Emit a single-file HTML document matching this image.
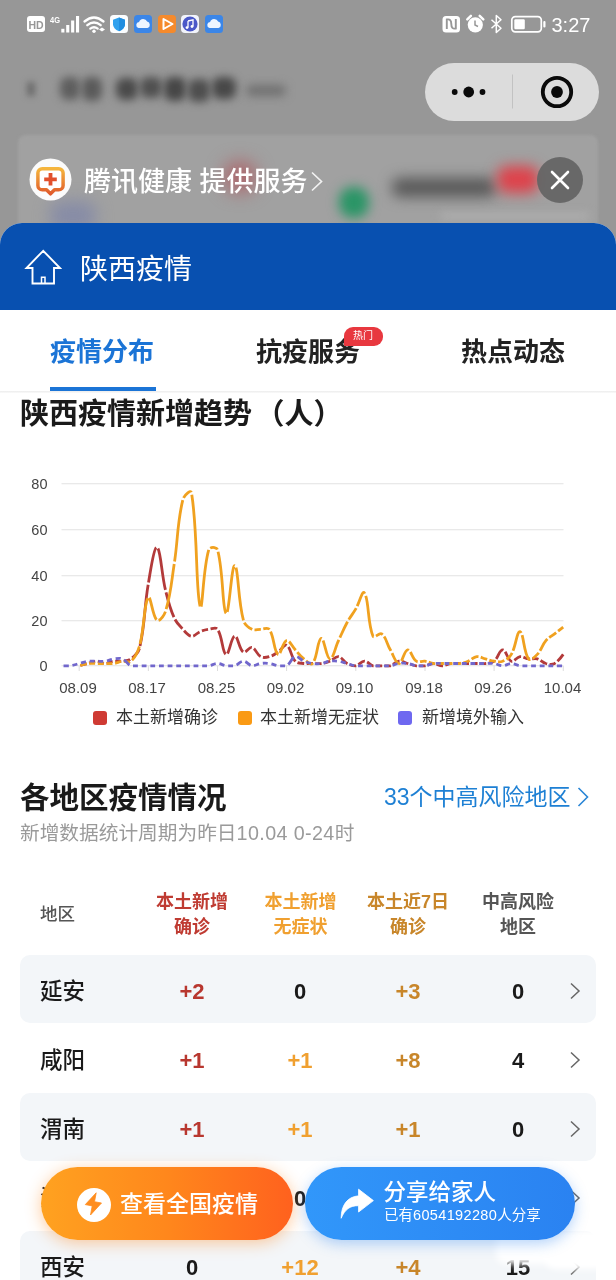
<!DOCTYPE html>
<html lang="zh-CN">
<head>
<meta charset="utf-8">
<title>陕西疫情</title>
<style>
html,body{margin:0;padding:0;}
body{width:616px;height:1280px;overflow:hidden;position:relative;background:#979797;
  font-family:"Liberation Sans","Noto Sans CJK SC",sans-serif;color:#1a1a1a;}
.abs{position:absolute;}
.t{position:absolute;white-space:nowrap;line-height:1;}
/* ---------- dimmed top ---------- */
#top{position:absolute;left:0;top:0;width:616px;height:240px;background:#979797;overflow:hidden;}
.blur{position:absolute;filter:blur(6px);}
#card{position:absolute;left:18px;top:135px;width:580px;height:110px;background:#a1a1a1;border-radius:8px;filter:blur(1.500px);}
#status{position:absolute;left:0;top:0;width:616px;height:48px;}
#clock{left:551.500px;top:14.500px;font-size:20px;color:#fff;letter-spacing:0px;}
#capsule{position:absolute;left:425px;top:63px;width:174px;height:58px;border-radius:29px;background:#dcdcdc;}
#svc{left:84px;top:168.500px;font-size:27px;color:#fff;font-weight:500;}
#closeb{position:absolute;left:536.500px;top:157px;width:46px;height:46px;border-radius:50%;background:rgba(100,100,100,.93);}
/* ---------- panel ---------- */
#panel{position:absolute;left:0;top:223px;width:616px;height:1057px;background:#fff;border-radius:22px 22px 0 0;overflow:hidden;}
#bluebar{position:absolute;left:0;top:0;width:616px;height:87px;background:#0850b0;}
#title{left:80px;top:33px;font-size:28px;color:#fff;}
.tab{font-size:26px;font-weight:700;color:#222;}
#h1{left:20px;font-size:29px;font-weight:700;color:#1a1a1a;}
.ax{font-size:14.5px;fill:#444;font-family:"Liberation Sans",sans-serif;}
.lg{font-size:17px;color:#333;}
.sw{position:absolute;width:14px;height:14px;border-radius:3px;}
.hd{position:absolute;text-align:center;font-size:18px;font-weight:700;line-height:25px;white-space:nowrap;transform:translateX(-50%);}
.row{position:absolute;left:20px;width:576px;height:68px;border-radius:10px;}
.row.g{background:#f3f6f9;}
.rn{position:absolute;left:20px;top:26px;font-size:22.5px;font-weight:500;line-height:1;color:#1a1a1a;white-space:nowrap;}
.v{position:absolute;top:26.500px;font-size:22px;font-weight:700;line-height:1;transform:translateX(-50%);white-space:nowrap;font-family:"Liberation Sans",sans-serif;}
.c1{left:172px;color:#b8372f;}
.c2{left:280px;color:#f0a030;}
.c3{left:388px;color:#c8862a;}
.c4{left:498px;color:#1a1a1a;}
.k{color:#1a1a1a;}
.chev{position:absolute;left:549px;top:27px;width:12px;height:18px;}
#btnO{position:absolute;left:41px;top:1167px;width:251.500px;height:73px;border-radius:37px;
  background:linear-gradient(90deg,#ffa220 0%,#ff871c 50%,#ff611e 100%);box-shadow:0 3px 16px rgba(255,140,40,.45);}
#btnB{position:absolute;left:305px;top:1167px;width:270px;height:73px;border-radius:37px;
  background:linear-gradient(90deg,#3197fa 0%,#2a82f1 100%);box-shadow:0 4px 14px rgba(40,130,240,.35);}
</style>
</head>
<body>
<!-- ================= dimmed background page ================= -->
<div id="top">
  <div class="blur" style="left:27px;top:82px;width:8px;height:14px;background:#6c6c6c;filter:blur(3px);"></div>
  <div class="blur" style="left:60px;top:77px;width:20px;height:23px;background:#5e5e5e;border-radius:8px;filter:blur(4.500px);"></div>
  <div class="blur" style="left:82px;top:77px;width:20px;height:24px;background:#5a5a5a;border-radius:8px;filter:blur(4.500px);"></div>
  <div class="blur" style="left:116px;top:78px;width:22px;height:22px;background:#4a4a4a;border-radius:8px;filter:blur(4.500px);"></div>
  <div class="blur" style="left:140px;top:77px;width:22px;height:21px;background:#505050;border-radius:8px;filter:blur(4.500px);"></div>
  <div class="blur" style="left:164px;top:77px;width:22px;height:24px;background:#464646;border-radius:8px;filter:blur(4.500px);"></div>
  <div class="blur" style="left:188px;top:79px;width:22px;height:23px;background:#4e4e4e;border-radius:8px;filter:blur(4.500px);"></div>
  <div class="blur" style="left:212px;top:77px;width:24px;height:22px;background:#484848;border-radius:8px;filter:blur(4.500px);"></div>
  <div class="blur" style="left:246px;top:85px;width:40px;height:11px;background:#707070;border-radius:6px;filter:blur(5px);"></div>
  <div id="card"></div>
  <div class="blur" style="left:50px;top:201px;width:46px;height:30px;background:#878ca6;border-radius:12px;filter:blur(8px);"></div>
  <div class="blur" style="left:224px;top:162px;width:32px;height:30px;background:#ad656a;border-radius:14px;filter:blur(9px);"></div>
  <div class="blur" style="left:339px;top:187px;width:30px;height:31px;background:#2a9566;border-radius:45%;filter:blur(6px);"></div>
  <div class="blur" style="left:392px;top:178px;width:104px;height:19px;background:#585858;border-radius:8px;filter:blur(7px);"></div>
  <div class="blur" style="left:440px;top:213px;width:150px;height:6px;background:#b0b0b0;border-radius:3px;filter:blur(4px);"></div>
  <div class="blur" style="left:497px;top:166px;width:42px;height:27px;background:#de424b;border-radius:10px;filter:blur(7px);"></div>
</div>

<!-- status bar -->
<div id="status">
<svg class="abs" style="left:0;top:0" width="616" height="48" viewBox="0 0 616 48">
  <!-- HD -->
  <rect x="27" y="16" width="18" height="16" rx="3" fill="#fff"/>
  <text x="36" y="28.5" font-size="10.5" font-weight="700" text-anchor="middle" fill="#979797" font-family="Liberation Sans, sans-serif">HD</text>
  <!-- 4G + signal -->
  <text x="50" y="23" font-size="9" font-weight="700" fill="#fff" font-family="Liberation Sans, sans-serif" textLength="10" lengthAdjust="spacingAndGlyphs">4G</text>
  <rect x="61.300" y="28.800" width="3.100" height="3.700" fill="#fff"/>
  <rect x="66.200" y="25" width="3.100" height="7.500" fill="#fff"/>
  <rect x="71.100" y="20.500" width="3.100" height="12" fill="#fff"/>
  <rect x="76" y="16" width="3.100" height="16.500" fill="#fff"/>
  <!-- wifi -->
  <g fill="none" stroke="#fff" stroke-width="2.3" stroke-linecap="round">
    <path d="M84.5 21.5 Q94 13.5 103.500 21.5"/>
    <path d="M87.300 25.200 Q94 19.700 100.700 25.200"/>
    <path d="M90.300 28.600 Q94 25.800 97.700 28.600"/>
  </g>
  <circle cx="94" cy="31.300" r="1.700" fill="#fff"/>
  <path d="M99 29.500 l3 -2 v4z M105 29.500 l-3 -2 v4z" fill="#fff"/>
  <!-- shield app -->
  <rect x="110" y="15" width="18" height="18" rx="3.500" fill="#fbfdff"/>
  <path d="M119 17.500 l6 2.200 v4.500 q0 4.500 -6 7 q-6 -2.500 -6 -7 v-4.500z" fill="#2ea0ee"/>
  <path d="M119 17.500 l6 2.200 v4.500 q0 4.500 -6 7z" fill="#1f8de0"/>
  <!-- cloud app -->
  <rect x="134" y="15" width="18" height="18" rx="3.500" fill="#3b86e8"/>
  <path d="M138.500 28 a3 3 0 0 1 .6 -5.900 a4.200 4.200 0 0 1 8 -.5 a3.300 3.300 0 0 1 .4 6.400z" fill="#eef5ff"/>
  <!-- play app -->
  <rect x="158" y="15" width="18" height="18" rx="3.500" fill="#f58a2c"/>
  <path d="M163.500 19 l9 5 l-9 5z" fill="none" stroke="#fff" stroke-width="2" stroke-linejoin="round"/>
  <!-- music app -->
  <g transform="translate(-1 0)"><rect x="182" y="15" width="18" height="18" rx="4" fill="#f2f4fb"/>
  <circle cx="191" cy="24" r="7.600" fill="#4a58c8"/>
  <path d="M189 21 l5 -1.200 v6.600 M189 21 v6.500" fill="none" stroke="#fff" stroke-width="1.300"/>
  <circle cx="188" cy="27.600" r="1.400" fill="#fff"/><circle cx="193" cy="26.500" r="1.400" fill="#fff"/></g>
  <!-- cloud app 2 -->
  <rect x="205" y="15" width="18" height="18" rx="3.500" fill="#3b86e8"/>
  <path d="M209.500 28 a3 3 0 0 1 .6 -5.900 a4.200 4.200 0 0 1 8 -.5 a3.300 3.300 0 0 1 .4 6.400z" fill="#eef5ff"/>
  <!-- NFC -->
  <rect x="442.500" y="16" width="17.500" height="16.500" rx="3.500" fill="#fff"/>
  <path d="M446.800 29 v-9.500 q4.500 -1 4.500 4.500 t4.500 4.500 v-9.500" fill="none" stroke="#979797" stroke-width="1.900"/>
  <!-- alarm -->
  <circle cx="475.300" cy="24.800" r="7.600" fill="#fff"/>
  <path d="M475 20.500 v4.500 l3 1.500" fill="none" stroke="#979797" stroke-width="1.500"/>
  <path d="M467.300 19.300 l3.600 -3.500 M483.300 19.300 l-3.600 -3.500" stroke="#fff" stroke-width="2.500" stroke-linecap="round"/>
  <!-- bluetooth -->
  <path d="M491.500 19.700 l9.500 8.600 l-4.700 4.200 v-17 l4.700 4.200 l-9.500 8.600" fill="none" stroke="#fff" stroke-width="1.500" stroke-linejoin="round"/>
  <!-- battery -->
  <rect x="511.800" y="16.600" width="29.500" height="15.200" rx="3.500" fill="none" stroke="#fff" stroke-width="1.700"/>
  <rect x="514.300" y="19.200" width="10.500" height="10" rx="1.200" fill="#fff"/>
  <rect x="543.300" y="21" width="2.200" height="6.500" rx="1" fill="#fff"/>
</svg>
<div class="t" id="clock">3:27</div>
</div>

<!-- capsule -->
<div id="capsule">
<svg width="174" height="58" viewBox="0 0 174 58">
  <circle cx="29.700" cy="29" r="2.900" fill="#0a0a0a"/>
  <circle cx="43.700" cy="29" r="5.400" fill="#0a0a0a"/>
  <circle cx="57.500" cy="29" r="2.900" fill="#0a0a0a"/>
  <rect x="87" y="11.500" width="1" height="34" fill="#c2c2c2"/>
  <circle cx="132" cy="29" r="14.200" fill="none" stroke="#0a0a0a" stroke-width="3.800"/>
  <circle cx="132" cy="29" r="5.900" fill="#0a0a0a"/>
</svg>
</div>

<!-- service row -->
<svg class="abs" style="left:29px;top:158px" width="44" height="44" viewBox="0 0 44 44">
  <defs><linearGradient id="tg" x1="0" y1="0" x2="0" y2="1"><stop offset="0" stop-color="#f5b53c"/><stop offset="1" stop-color="#e05a2a"/></linearGradient></defs>
  <circle cx="21.500" cy="21.500" r="21" fill="#fbfbfb"/>
  <path d="M13.300 10.700 h16.400 a4.400 4.400 0 0 1 4.400 4.400 v12.300 a4.400 4.400 0 0 1 -4.400 4.400 h-4.200 l-4 4 l-4 -4 h-4.200 a4.400 4.400 0 0 1 -4.400 -4.400 v-12.300 a4.400 4.400 0 0 1 4.400 -4.400z" fill="#fff" stroke="url(#tg)" stroke-width="3.500" stroke-linejoin="round"/>
  <path d="M21.500 15 v12.600 M15.200 21.300 h12.600" stroke="#e2502c" stroke-width="3.800"/>
</svg>
<div class="t" id="svc">腾讯健康 提供服务</div>
<svg class="abs" style="left:308px;top:168px" width="20" height="26" viewBox="0 0 20 26"><path d="M4 4.500 l9.500 9 l-9.500 9" fill="none" stroke="#f2f2f2" stroke-width="1.700"/></svg>
<div id="closeb"><svg width="46" height="46" viewBox="0 0 46 46"><path d="M15 15 l16 16 M31 15 l-16 16" stroke="#fff" stroke-width="2.600" stroke-linecap="round"/></svg></div>

<!-- ================= main panel ================= -->
<div id="panel">
  <div id="bluebar"></div>
  <svg class="abs" style="left:22px;top:22px" width="44" height="44" viewBox="0 0 44 44">
    <path d="M21.200 5.800 L4.500 23 H10.500 V38.500 H32 V23 H38 Z" fill="none" stroke="#fff" stroke-width="1.900" stroke-linejoin="miter"/>
    <path d="M19.500 38.500 V32.300 H23 V38.500" fill="none" stroke="#fff" stroke-width="1.500"/>
  </svg>
  <div class="t" id="title">陕西疫情</div>

  <!-- tabs -->
  <div class="t tab" style="left:50px;top:116px;color:#1b74d6;">疫情分布</div>
  <div class="t tab" style="left:256px;top:116px;">抗疫服务</div>
  <div class="t tab" style="left:461px;top:116px;">热点动态</div>
  <div class="abs" style="left:50px;top:163.500px;width:106px;height:4.500px;background:#1b74d6;"></div>
  <div class="abs" style="left:0;top:168px;width:616px;height:2px;background:linear-gradient(#ececec,#fafafa);"></div>
  <div class="abs" style="left:343.500px;top:104px;width:39.500px;height:18.500px;border-radius:9px 9px 9px 1px;background:#e8383f;"></div>
  <div class="t" style="left:353px;top:108px;font-size:10px;color:#fff;">热门</div>

  <div class="t" id="h1" style="top:176.500px;">陕西疫情新增趋势<span style="margin-left:3.500px">（人）</span></div>

  <!-- chart (svg coordinates are page coords shifted by -223 via viewBox) -->
  <svg class="abs" style="left:0;top:237px" width="616" height="260" viewBox="0 460 616 260">
    <g stroke="#e2e2e2" stroke-width="1">
      <line x1="61.500" x2="563.500" y1="483.750" y2="483.750"/>
      <line x1="61.500" x2="563.500" y1="529.750" y2="529.750"/>
      <line x1="61.500" x2="563.500" y1="575.750" y2="575.750"/>
      <line x1="61.500" x2="563.500" y1="620.750" y2="620.750"/>
      <line x1="61.500" x2="563.500" y1="665.750" y2="665.750"/>
    </g>
    <g stroke="#dcdcdc" stroke-width="1">
      <line x1="79.200" x2="79.200" y1="666" y2="671"/><line x1="148.350" x2="148.350" y1="666" y2="671"/>
      <line x1="217.500" x2="217.500" y1="666" y2="671"/><line x1="286.600" x2="286.600" y1="666" y2="671"/>
      <line x1="355.800" x2="355.800" y1="666" y2="671"/><line x1="425" x2="425" y1="666" y2="671"/>
      <line x1="494.100" x2="494.100" y1="666" y2="671"/><line x1="563.250" x2="563.250" y1="666" y2="671"/>
    </g>
    <g class="ax" text-anchor="end">
      <text x="47.500" y="489">80</text><text x="47.500" y="535">60</text><text x="47.500" y="581">40</text>
      <text x="47.500" y="626">20</text><text x="47.500" y="671">0</text>
    </g>
    <g class="ax" text-anchor="middle" style="font-size:15px">
      <text x="78" y="692.500">08.09</text><text x="147" y="692.500">08.17</text><text x="216.500" y="692.500">08.25</text>
      <text x="285.500" y="692.500">09.02</text><text x="354.500" y="692.500">09.10</text><text x="424" y="692.500">09.18</text>
      <text x="493" y="692.500">09.26</text><text x="562.500" y="692.500">10.04</text>
    </g>
    <g fill="none" stroke-width="2.800" stroke-linejoin="round">
      <path d="M79.2 665.8C79.2 665.8 84.4 664.4 87.8 663.5C91.3 662.6 93.0 661.2 96.5 661.2C99.9 661.2 101.7 663.5 105.1 663.5C108.6 663.5 110.2 661.7 113.8 661.2C117.2 660.8 119.0 661.6 122.4 661.2C125.9 660.7 128.4 661.0 131.0 658.9C135.3 655.6 138.4 653.0 139.7 647.5C145.3 623.0 144.0 609.1 148.3 583.8C150.9 569.1 153.8 546.1 157.0 547.4C160.7 548.9 161.4 573.5 165.6 590.6C168.3 601.8 169.6 607.6 174.3 618.0C176.6 623.1 179.0 625.2 182.9 629.3C185.9 632.5 187.9 635.7 191.5 636.2C194.8 636.6 196.6 633.0 200.2 631.6C203.5 630.3 205.3 629.8 208.8 629.3C212.2 628.9 215.8 626.9 217.5 629.3C222.7 636.9 222.2 652.8 226.1 654.4C229.1 655.6 231.1 636.6 234.8 636.2C238.0 635.7 238.9 649.1 243.4 652.1C245.8 653.7 249.0 646.7 252.0 647.5C255.9 648.6 256.6 654.5 260.7 656.6C263.5 658.1 266.1 657.5 269.3 656.6C273.0 655.7 274.7 654.2 278.0 652.1C281.6 649.7 284.0 643.9 286.6 645.3C290.9 647.5 290.6 656.3 295.3 661.2C297.5 663.6 300.4 663.0 303.9 663.5C307.3 663.9 309.1 663.5 312.5 663.5C316.0 663.5 317.8 663.9 321.2 663.5C324.7 663.0 326.5 662.5 329.8 661.2C333.4 659.8 335.2 656.2 338.5 656.6C342.1 657.1 343.3 661.5 347.1 663.5C350.2 665.1 352.5 665.8 355.8 665.8C359.4 665.3 360.9 661.2 364.4 661.2C367.9 661.2 369.4 664.8 373.0 665.8C376.3 665.8 378.2 665.8 381.7 665.8C385.1 665.8 387.1 665.8 390.3 665.8C394.0 664.8 395.4 661.7 399.0 661.2C402.3 660.8 404.2 662.6 407.6 663.5C411.1 664.4 412.7 665.3 416.3 665.8C419.7 665.8 421.5 665.8 424.9 665.8C428.4 665.3 430.1 663.5 433.5 663.5C437.0 663.5 438.7 665.8 442.2 665.8C445.6 665.8 447.3 663.9 450.8 663.5C454.2 663.0 456.0 663.5 459.5 663.5C462.9 663.5 464.7 663.5 468.1 663.5C471.6 663.5 473.3 663.5 476.8 663.5C480.2 663.5 482.0 663.9 485.4 663.5C488.9 663.0 491.4 663.3 494.1 661.2C498.3 657.8 499.2 649.8 502.7 649.8C506.2 649.8 507.2 659.6 511.3 661.2C514.1 662.3 516.4 657.1 520.0 656.6C523.3 656.2 525.1 658.5 528.6 658.9C532.0 659.4 534.0 658.1 537.3 658.9C540.9 659.9 542.2 662.5 545.9 663.5C549.2 664.3 551.7 665.0 554.6 663.5C558.6 661.3 563.2 654.4 563.2 654.4" stroke="#b33a3a" stroke-dasharray="0 1.20 6.54 2.40 6.59 2.40 6.61 2.40 6.59 2.40 6.26 2.40 6.69 2.40 12.24 2.40 61.96 2.40 35.72 2.40 42.04 2.40 26.30 2.40 11.99 2.40 8.87 2.40 7.59 2.40 6.57 2.40 6.77 2.40 24.47 2.40 18.52 2.40 16.29 2.40 7.94 2.40 10.40 2.40 6.48 2.40 7.43 2.40 9.14 2.40 16.02 2.40 6.78 2.40 6.26 2.40 6.26 2.40 6.57 2.40 7.59 2.40 8.81 2.40 6.64 2.40 7.56 2.40 7.53 2.40 6.24 2.40 6.24 2.40 7.47 2.40 6.64 2.40 6.55 2.40 6.24 2.40 6.59 2.40 6.61 2.40 6.59 2.40 6.26 2.40 6.24 2.40 6.24 2.40 6.26 2.40 6.69 2.40 12.30 2.40 12.37 2.40 7.74 2.40 6.64 2.40 6.29 2.40 7.43 2.40 6.48 2.40 10.25 6.20"/>
      <path d="M79.2 665.8C79.2 665.8 84.3 663.9 87.8 663.5C91.2 663.0 93.0 663.5 96.5 663.5C99.9 663.5 101.7 663.5 105.1 663.5C108.6 663.5 110.4 663.9 113.8 663.5C117.3 663.0 118.9 661.7 122.4 661.2C125.8 660.8 128.8 663.3 131.0 661.2C135.7 656.9 137.8 652.2 139.7 645.3C144.7 626.7 143.7 604.1 148.3 597.5C150.6 594.1 152.4 616.6 157.0 620.2C159.3 622.1 164.2 615.8 165.6 611.1C171.1 593.0 171.3 582.5 174.3 563.3C178.2 537.9 177.0 523.7 182.9 499.6C183.9 495.5 190.9 489.0 191.5 492.8C197.9 531.8 195.6 591.4 200.2 606.6C202.5 614.2 202.8 569.5 208.8 549.7C209.7 546.7 216.7 546.7 217.5 549.7C223.6 572.1 222.2 609.8 226.1 613.4C229.1 616.1 231.5 564.3 234.8 565.6C238.4 567.1 237.8 599.5 243.4 620.2C244.7 624.9 248.0 627.2 252.0 629.3C254.9 630.8 257.2 629.3 260.7 629.3C264.1 629.3 267.6 626.9 269.3 629.3C274.5 636.9 273.7 651.5 278.0 654.4C280.6 656.1 282.7 641.7 286.6 640.7C289.6 639.9 291.8 646.2 295.3 649.8C298.7 653.5 300.0 655.9 303.9 658.9C306.9 661.3 310.7 665.7 312.5 663.5C317.6 657.5 317.4 639.4 321.2 638.4C324.3 637.6 326.2 658.4 329.8 658.9C333.1 659.4 335.0 648.0 338.5 640.7C341.9 633.4 343.3 629.6 347.1 622.5C350.2 616.8 352.5 614.4 355.8 608.9C359.4 602.6 362.4 589.7 364.4 592.9C369.3 600.7 367.3 622.5 373.0 636.2C374.2 638.9 379.4 632.1 381.7 633.9C386.3 637.5 386.7 643.6 390.3 649.8C393.6 655.4 395.5 663.5 399.0 663.5C402.4 663.5 404.0 650.3 407.6 649.8C410.9 649.4 412.0 658.4 416.3 661.2C418.9 662.9 421.5 660.8 424.9 661.2C428.4 661.7 430.0 663.0 433.5 663.5C436.9 663.9 438.7 663.5 442.2 663.5C445.6 663.5 447.4 663.5 450.8 663.5C454.3 663.5 456.1 663.9 459.5 663.5C463.0 663.0 464.8 662.5 468.1 661.2C471.7 659.8 473.2 657.1 476.8 656.6C480.1 656.2 481.9 658.0 485.4 658.9C488.9 659.8 490.5 660.7 494.1 661.2C497.4 661.6 499.7 662.4 502.7 661.2C506.6 659.7 509.2 658.1 511.3 654.4C516.1 646.2 516.8 630.8 520.0 631.6C523.7 632.6 523.5 652.1 528.6 658.9C530.4 661.2 534.7 657.1 537.3 654.4C541.6 649.8 541.8 645.6 545.9 640.7C548.7 637.4 551.1 636.6 554.6 633.9C558.0 631.2 563.2 627.1 563.2 627.1" stroke="#f0a11f" stroke-dasharray="0 1.20 6.55 2.40 6.26 2.40 6.24 2.40 6.26 2.40 6.56 2.40 6.54 2.40 16.00 2.40 46.36 2.40 23.05 2.40 11.29 2.40 46.24 2.40 61.97 2.40 10.75 2.40 111.84 2.40 57.15 2.40 8.00 2.40 62.15 2.40 47.05 2.40 53.21 2.40 10.58 2.40 6.40 2.40 6.72 2.40 24.42 2.40 14.56 2.40 10.66 2.40 10.18 2.40 8.17 2.40 24.53 2.40 20.56 2.40 18.32 2.40 17.76 2.40 13.77 2.40 16.95 2.40 41.93 2.40 7.43 2.40 15.91 2.40 14.25 2.40 14.36 2.40 12.37 2.40 6.44 2.40 6.56 2.40 6.26 2.40 6.24 2.40 6.26 2.40 6.57 2.40 7.46 2.40 6.64 2.40 6.55 2.40 6.37 2.40 8.86 2.40 22.53 2.40 26.68 2.40 8.32 2.40 13.82 2.40 8.65 2.40 8.61 6.20"/>
      <path d="M61.9 665.8C61.9 665.8 67.1 665.8 70.5 665.8C74.1 665.3 75.7 664.4 79.2 663.5C82.6 662.6 84.3 661.7 87.8 661.2C91.2 660.8 93.0 661.2 96.5 661.2C99.9 661.2 101.7 661.6 105.1 661.2C108.6 660.7 110.2 659.4 113.8 658.9C117.2 658.5 119.4 657.7 122.4 658.9C126.3 660.5 127.2 664.2 131.0 665.8C134.1 665.8 136.2 665.8 139.7 665.8C143.1 665.8 144.9 665.8 148.3 665.8C151.8 665.8 153.5 665.8 157.0 665.8C160.4 665.8 162.2 665.8 165.6 665.8C169.1 665.8 170.8 665.8 174.3 665.8C177.7 665.8 179.4 665.8 182.9 665.8C186.4 665.8 188.1 665.8 191.5 665.8C195.0 665.8 196.7 665.8 200.2 665.8C203.6 665.8 205.4 665.8 208.8 665.8C212.3 665.3 214.0 663.5 217.5 663.5C220.9 663.5 222.6 665.3 226.1 665.8C229.5 665.8 231.5 665.8 234.8 665.8C238.4 664.8 239.9 661.2 243.4 661.2C246.9 661.2 248.4 665.3 252.0 665.8C255.3 665.8 257.2 663.9 260.7 663.5C264.1 663.0 265.9 663.0 269.3 663.5C272.8 663.9 274.5 665.3 278.0 665.8C281.4 665.8 283.8 665.8 286.6 665.8C290.7 663.6 291.4 657.7 295.3 656.6C298.3 655.8 300.3 659.8 303.9 661.2C307.2 662.5 309.0 663.0 312.5 663.5C315.9 663.9 317.8 663.9 321.2 663.5C324.7 663.0 326.3 661.7 329.8 661.2C333.2 660.8 335.1 660.8 338.5 661.2C342.0 661.7 343.7 662.6 347.1 663.5C350.6 664.4 352.2 665.3 355.8 665.8C359.2 665.8 360.9 665.8 364.4 665.8C367.9 665.8 369.6 665.8 373.0 665.8C376.5 665.8 378.2 665.8 381.7 665.8C385.1 665.8 386.9 665.8 390.3 665.8C393.8 665.3 395.5 663.9 399.0 663.5C402.4 663.0 404.2 663.0 407.6 663.5C411.1 663.9 412.7 665.3 416.3 665.8C419.7 665.8 421.5 665.8 424.9 665.8C428.4 665.3 430.0 663.9 433.5 663.5C436.9 663.0 438.7 663.5 442.2 663.5C445.6 663.5 447.4 663.5 450.8 663.5C454.3 663.5 456.0 663.5 459.5 663.5C462.9 663.5 464.7 663.5 468.1 663.5C471.6 663.5 473.3 663.5 476.8 663.5C480.2 663.5 481.9 663.5 485.4 663.5C488.9 663.5 490.7 663.0 494.1 663.5C497.6 663.9 499.2 665.8 502.7 665.8C506.2 665.8 507.9 663.5 511.3 663.5C514.8 663.5 516.5 665.3 520.0 665.8C523.4 665.8 525.2 665.8 528.6 665.8C532.1 665.8 533.8 665.8 537.3 665.8C540.7 665.8 542.5 665.8 545.9 665.8C549.4 665.8 551.1 665.8 554.6 665.8C558.0 665.8 563.2 665.8 563.2 665.8" stroke="#7167cc" stroke-dasharray="0 1.75 5.14 3.50 5.45 3.50 5.45 3.50 5.16 3.50 5.16 3.50 5.46 3.50 5.27 3.50 7.63 3.50 5.14 3.50 5.14 3.50 5.14 3.50 5.14 3.50 5.14 3.50 5.14 3.50 5.14 3.50 5.14 3.50 5.14 3.50 5.49 3.50 5.49 3.50 5.14 3.50 6.43 3.50 6.46 3.50 5.48 3.50 5.18 3.50 5.46 3.50 5.14 3.50 9.30 3.50 6.56 3.50 5.47 3.50 5.18 3.50 5.46 3.50 5.18 3.50 5.45 3.50 5.45 3.50 5.14 3.50 5.14 3.50 5.14 3.50 5.14 3.50 5.46 3.50 5.18 3.50 5.46 3.50 5.14 3.50 5.46 3.50 5.16 3.50 5.14 3.50 5.14 3.50 5.14 3.50 5.14 3.50 5.14 3.50 5.16 3.50 5.49 3.50 5.51 3.50 5.49 3.50 5.14 3.50 5.14 3.50 5.14 3.50 5.14 3.50 5.14 6.75"/>
    </g>
  </svg>

  <!-- legend -->
  <div class="sw" style="left:93px;top:488px;background:#cf3a33;"></div>
  <div class="t lg" style="left:116px;top:486px;">本土新增确诊</div>
  <div class="sw" style="left:237.500px;top:488px;background:#fa9a14;"></div>
  <div class="t lg" style="left:260px;top:486px;">本土新增无症状</div>
  <div class="sw" style="left:398px;top:488px;background:#6e68f0;"></div>
  <div class="t lg" style="left:422px;top:486px;">新增境外输入</div>

  <!-- section 2 -->
  <div class="t" style="left:20px;top:559.500px;font-size:29.500px;font-weight:700;color:#1a1a1a;">各地区疫情情况</div>
  <div class="t" style="left:384px;top:563px;font-size:23px;color:#1e80d4;">33个中高风险地区</div>
  <svg class="abs" style="left:574px;top:562px" width="18" height="24" viewBox="0 0 18 24"><path d="M4.500 3 l9 9 l-9 9" fill="none" stroke="#2a86d6" stroke-width="1.600"/></svg>
  <div class="t" style="left:20px;top:601px;font-size:19.700px;color:#9a9a9a;">新增数据统计周期为昨日<span style="letter-spacing:.4px">10.04 0-24</span>时</div>

  <!-- table header -->
  <div class="t" style="left:40px;top:683px;font-size:17.500px;color:#555;font-weight:500;">地区</div>
  <div class="hd" style="left:192px;top:667px;color:#bf3b32;">本土新增<br>确诊</div>
  <div class="hd" style="left:300.500px;top:667px;color:#f0a030;">本土新增<br>无症状</div>
  <div class="hd" style="left:408px;top:667px;color:#c8862a;">本土近7日<br>确诊</div>
  <div class="hd" style="left:518px;top:667px;color:#555;">中高风险<br>地区</div>

  <!-- rows -->
  <div class="row g" style="top:731.500px;"><div class="rn">延安</div><div class="v c1">+2</div><div class="v c2 k">0</div><div class="v c3">+3</div><div class="v c4">0</div>
    <svg class="chev" viewBox="0 0 12 18"><path d="M2 1.500 l8 7.500 l-8 7.500" fill="none" stroke="#666" stroke-width="1.500"/></svg></div>
  <div class="row" style="top:800.500px;"><div class="rn">咸阳</div><div class="v c1">+1</div><div class="v c2">+1</div><div class="v c3">+8</div><div class="v c4">4</div>
    <svg class="chev" viewBox="0 0 12 18"><path d="M2 1.500 l8 7.500 l-8 7.500" fill="none" stroke="#666" stroke-width="1.500"/></svg></div>
  <div class="row g" style="top:869.500px;"><div class="rn">渭南</div><div class="v c1">+1</div><div class="v c2">+1</div><div class="v c3">+1</div><div class="v c4">0</div>
    <svg class="chev" viewBox="0 0 12 18"><path d="M2 1.500 l8 7.500 l-8 7.500" fill="none" stroke="#666" stroke-width="1.500"/></svg></div>
  <div class="row" style="top:938.500px;"><div class="rn">汉中</div><div class="v c1 k">0</div><div class="v c2 k">0</div><div class="v c3">+1</div><div class="v c4">0</div>
    <svg class="chev" viewBox="0 0 12 18"><path d="M2 1.500 l8 7.500 l-8 7.500" fill="none" stroke="#666" stroke-width="1.500"/></svg></div>
  <div class="row g" style="top:1007.500px;"><div class="rn">西安</div><div class="v c1 k">0</div><div class="v c2">+12</div><div class="v c3">+4</div><div class="v c4">15</div>
    <svg class="chev" viewBox="0 0 12 18"><path d="M2 1.500 l8 7.500 l-8 7.500" fill="none" stroke="#666" stroke-width="1.500"/></svg></div>
  <!-- watermark smear -->
  <div class="abs" style="left:496px;top:1008px;width:112px;height:33px;background:#fff;border-radius:10px;filter:blur(3.500px);"></div>
  <div class="abs" style="left:545px;top:1012px;width:62px;height:34px;background:#fff;border-radius:10px;filter:blur(3.500px);"></div>
</div>

<!-- floating buttons -->
<div id="btnO">
  <svg class="abs" style="left:35px;top:19.500px" width="36" height="36" viewBox="0 0 36 36"><circle cx="18" cy="18" r="17" fill="#fff"/><path d="M20.200 5.800 L9.300 17.600 L16.200 18.900 L14.500 28 L25.500 16 L18.500 14.700z" fill="#ff8d1e" stroke="#ff8d1e" stroke-width=".8" stroke-linejoin="round"/></svg>
  <div class="t" style="left:79px;top:25.500px;font-size:23px;color:#fff;font-weight:500;">查看全国疫情</div>
</div>
<div id="btnB">
  <svg class="abs" style="left:33px;top:20px" width="38" height="34" viewBox="0 0 36 32"><path d="M19.500 2 L33.500 12.800 L19.500 23.600 v-6 C11.500 17.400 6.500 21 3 29.500 C3 17 9 9 19.500 8.300z" fill="#fff" stroke="#fff" stroke-width=".8" stroke-linejoin="round"/></svg>
  <div class="t" style="left:78.500px;top:14.500px;font-size:22.500px;color:#fff;font-weight:500;">分享给家人</div>
  <div class="t" style="left:79px;top:40.500px;font-size:14.500px;color:#fff;">已有<span style="letter-spacing:.35px">6054192280</span>人分享</div>
</div>
</body>
</html>
